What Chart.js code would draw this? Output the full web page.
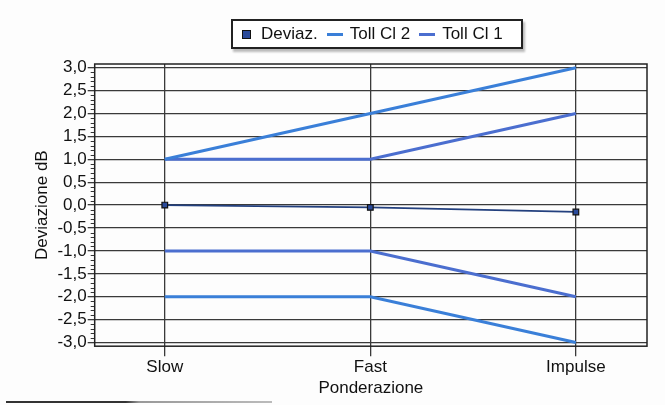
<!DOCTYPE html>
<html>
<head>
<meta charset="utf-8">
<script src="https://cdn.jsdelivr.net/npm/chart.js@4.4.1/dist/chart.umd.min.js"></script>
<style>
  html, body { margin: 0; padding: 0; background: #fdfdfd; }
  #wrap { position: relative; width: 665px; height: 405px; }
  #legenda {
    position: absolute; left: 231px; top: 19px; height: 26px;
    padding: 0 18px 0 9px;
    border: 2px solid #222; background: #fff;
    box-shadow: 2px 3px 2px #bbb;
    font: 17px "Liberation Sans", Arial, sans-serif; color: #111;
    display: flex; align-items: center; white-space: nowrap;
  }
  #legenda .sq { width: 7px; height: 7px; background: #2a4a9a; border: 1px solid #111; margin-right: 10px; }
  #legenda .ln { width: 16px; height: 3px; margin: 0 7px 0 9px; }
  #fondo { position: absolute; left: 6px; top: 401px; width: 266px; height: 2px;
           background: linear-gradient(to right, #333 45%, #999 50%, #bbb); }
</style>
</head>
<body>
<div id="wrap">
  <canvas id="grafico" width="665" height="405"></canvas>
  <div id="legenda"></div>
  <div id="fondo"></div>
</div>
<script>
// Dati
const categorie = ["Slow", "Fast", "Impulse"];
const deviaz = [0.0, -0.05, -0.15];
const tollCl2Sup = [1.0, 2.0, 3.0];
const tollCl2Inf = [-2.0, -2.0, -3.0];
const tollCl1Sup = [1.0, 1.0, 2.0];
const tollCl1Inf = [-1.0, -1.0, -2.0];
const yTicks = [-3, -2.5, -2, -1.5, -1, -0.5, 0, 0.5, 1, 1.5, 2, 2.5, 3];

const BLU2 = '#3a7fd8';
const BLU1 = '#4b6ecf';

function punti(valori) {
    return valori.map((v, i) => ({ x: i, y: v }));
}

function serieToll(label, dati, colore) {
    return {
        label: label,
        data: punti(dati),
        borderColor: colore,
        backgroundColor: colore,
        borderWidth: 3,
        pointRadius: 0,
        tension: 0
    };
}

// Tacche secondarie sull'asse Y + bordo dell'area
const tacchePlugin = {
    id: 'tacche',
    afterDraw(chart) {
        const ctx = chart.ctx;
        const a = chart.chartArea;
        const y = chart.scales.y;
        ctx.save();
        ctx.strokeStyle = '#333';
        ctx.lineWidth = 1;
        for (let k = -30; k <= 30; k++) {
            if (k % 5 === 0) continue;
            const py = Math.round(y.getPixelForValue(k / 10)) + 0.5;
            ctx.beginPath();
            ctx.moveTo(a.left - 4, py);
            ctx.lineTo(a.left, py);
            ctx.stroke();
        }
        ctx.lineWidth = 1.5;
        ctx.strokeStyle = '#222';
        ctx.strokeRect(a.left, a.top, a.right - a.left, a.bottom - a.top);
        ctx.restore();
    }
};

const ctx = document.getElementById('grafico').getContext('2d');
const chart = new Chart(ctx, {
    type: 'line',
    data: {
        datasets: [
            serieToll('Toll Cl 2', tollCl2Sup, BLU2),
            serieToll('Toll Cl 2', tollCl2Inf, BLU2),
            serieToll('Toll Cl 1', tollCl1Sup, BLU1),
            serieToll('Toll Cl 1', tollCl1Inf, BLU1),
            {
                label: 'Deviaz.',
                data: punti(deviaz),
                borderColor: '#23407e',
                backgroundColor: '#2a4a9a',
                pointBorderColor: '#111',
                borderWidth: 1.8,
                pointStyle: 'rect',
                pointRadius: 4,
                pointBorderWidth: 1.2,
                tension: 0
            }
        ]
    },
    options: {
        responsive: false,
        animation: false,
        layout: { padding: { top: 64, right: 18, bottom: 6, left: 32 } },
        plugins: {
            legend: { display: false },
            tooltip: { enabled: false }
        },
        scales: {
            x: {
                type: 'linear',
                min: -0.341,
                max: 2.346,
                afterBuildTicks: (s) => { s.ticks = categorie.map((c, i) => ({ value: i })); },
                ticks: {
                    callback: (v) => categorie[v],
                    color: '#111',
                    font: { family: 'Liberation Sans', size: 17 },
                    padding: 1
                },
                grid: { color: '#3a3a3a', lineWidth: 1.3, tickLength: 10 },
                border: { display: false },
                title: {
                    display: true,
                    text: 'Ponderazione',
                    color: '#111',
                    font: { family: 'Liberation Sans', size: 17 },
                    padding: { top: 0, bottom: 0 }
                }
            },
            y: {
                min: -3.08,
                max: 3.08,
                afterBuildTicks: (s) => { s.ticks = yTicks.map(v => ({ value: v })); },
                ticks: {
                    callback: (v) => v.toFixed(1).replace('.', ','),
                    color: '#111',
                    font: { family: 'Liberation Sans', size: 17 },
                    padding: 1
                },
                grid: { color: '#3a3a3a', lineWidth: 1.3, tickLength: 7 },
                border: { display: false },
                title: {
                    display: true,
                    text: 'Deviazione dB',
                    color: '#111',
                    font: { family: 'Liberation Sans', size: 17 },
                    padding: { top: 0, bottom: 4 }
                }
            }
        }
    },
    plugins: [tacchePlugin]
});

// Legenda HTML costruita dai dataset (una voce per serie)
const leg = document.getElementById('legenda');
[4, 0, 2].forEach((i) => {
    const ds = chart.data.datasets[i];
    const m = document.createElement('span');
    if (ds.pointStyle === 'rect') {
        m.className = 'sq';
    } else {
        m.className = 'ln';
        m.style.background = ds.borderColor;
    }
    const t = document.createElement('span');
    t.innerText = ds.label;
    leg.appendChild(m);
    leg.appendChild(t);
});
</script>
</body>
</html>
